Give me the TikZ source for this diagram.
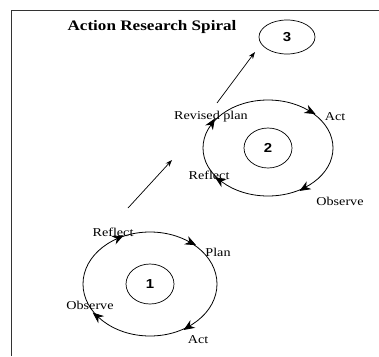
\documentclass[tikz,border=0pt]{standalone}
\usepackage{fontspec}
\setmainfont{Liberation Serif}[FakeStretch=1.18]
\newfontfamily\numfont{Liberation Sans}[FakeStretch=1.15]
\usetikzlibrary
  {
    arrows.meta,          % arrow heads
    decorations.markings, % arrow heads along the loops
    shapes.geometric,     % ellipse nodes
    positioning,          % place nodes relative to other nodes
  }

\tikzset
  {
    looptip/.tip={Stealth[reversed,length=11pt,width=9pt,inset=3.5pt]},
    spin/.style n args={4}{postaction={decorate}, decoration={markings,
        mark=at position #1 with {\arrow{looptip}},
        mark=at position #2 with {\arrow{looptip}},
        mark=at position #3 with {\arrow{looptip}},
        mark=at position #4 with {\arrow{looptip}}}},
  }

\begin{document}
\begin{tikzpicture}
    [
      x=1pt, y=1pt,
      line width=0.8pt,
      stage/.style=
        {
          inner sep=0pt,
          font=\fontsize{12}{12}\selectfont,
        },
      cyclenum/.style=
        {
          ellipse,
          draw,
          line width=0.7pt,
          minimum width=48pt,
          minimum height=40pt,
          font=\numfont\bfseries\fontsize{13}{13}\selectfont,
        },
      rise/.style=
        {
          line width=0.7pt,
          -{Stealth[length=7pt,width=5pt]},
        }
    ]
    \useasboundingbox (0,0) rectangle (379,-356);

    % frame
    \draw [black!80] (11,-356) |- (379,-10);

    \node (title) at (152,-27)
      [font=\bfseries\fontsize{14.5}{14.5}\selectfont] {Action Research Spiral};

    % first cycle
    \coordinate (cyc1) at (150,-284);
    \draw [spin={0.15}{0.35}{0.61}{0.87}] (cyc1) ellipse [x radius=67, y radius=52];
    \node (num1) [cyclenum] at (cyc1) {1};
    \node (reflect1) [stage] at (113,-232) {Reflect};
    \node (plan1) [stage] at (218,-252) {Plan};
    \node (observe1) [stage] at (90,-305) {Observe};
    \node (act1) [stage] at (198,-340) {Act};

    % second cycle
    \coordinate (cyc2) at (268,-148);
    \draw [spin={0.14}{0.44}{0.62}{0.87}] (cyc2) ellipse [x radius=65, y radius=48];
    \node (num2) [cyclenum] at (cyc2) {2};
    \node (revised) [stage] at (211,-117) {Revised plan};
    \node (act2) [stage] at (335,-117) {Act};
    \node (reflect2) [stage] at (209,-175) {Reflect};
    \node (observe2) [stage] at (340,-201) {Observe};

    % third cycle
    \node (num3) [cyclenum, minimum width=56pt, minimum height=34pt] at (287,-37) {3};

    % steps up the spiral
    \coordinate (rise1a) at (128,-208);
    \coordinate (rise1b) at (172,-160);
    \coordinate (rise2a) at (217,-103);
    \coordinate (rise2b) at (255,-52);
    \draw [rise] (rise1a) -- (rise1b);
    \draw [rise] (rise2a) -- (rise2b);
  \end{tikzpicture}
\end{document}
